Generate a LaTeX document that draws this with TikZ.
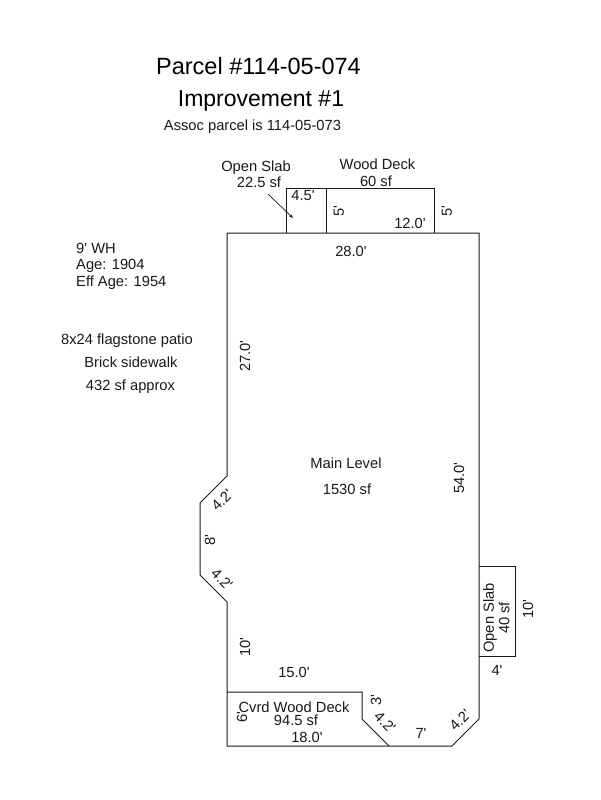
\documentclass[tikz,border=0pt]{standalone}
\usepackage{fontspec}
\setmainfont[Ligatures=TeXOff]{Liberation Sans}
\usetikzlibrary{arrows.meta}
\tikzset{
  plan/.style={draw=black!90,line width=1pt,line join=miter},
  lab/.style={inner sep=0pt,font=\fontsize{14.7}{15}\selectfont,text=black!90,align=center},
  big/.style={inner sep=0pt,font=\fontsize{23.5}{26}\selectfont,text=black},
  mid/.style={inner sep=0pt,font=\fontsize{23}{25}\selectfont,text=black},
}
\begin{document}
\begin{tikzpicture}[x=1pt,y=-1pt]
\useasboundingbox (0,0) rectangle (600,800);
\fill[white] (0,0) rectangle (600,800);
% outlines
\draw[plan] (227,233) -- (479,233) -- (479,719) -- (452,746) -- (227,746) -- (227,602) -- (200,575) -- (200,503) -- (227,476) -- cycle;
\draw[plan] (286,233) -- (286,188) -- (434,188) -- (434,233);
\draw[plan] (326,188) -- (326,233);
\draw[plan] (479,566) -- (515,566) -- (515,656) -- (479,656);
\draw[plan] (227,692) -- (362,692) -- (362,719) -- (389,746);
\coordinate (arrowstart) at (268,194);
\coordinate (arrowend) at (293,218);
\draw[draw=black!90,line width=0.7pt,-{Stealth[length=4pt,width=3pt]}] (arrowstart) -- (arrowend);
% titles
\node[big] (t1) at (258.5,66.5) {Parcel \#114-05-074};
\node[mid] (t2) at (261,100.5) {Improvement \#1};
\node[lab] (t3) at (252.5,127) {Assoc parcel is 114-05-073};
% top labels
\node[lab] (a1) at (256,168) {Open Slab};
\node[lab] (a2) at (259,182) {22.5 sf};
\node[lab] (a3) at (377.5,164) {Wood Deck};
\node[lab] (a4) at (376,181) {60 sf};
\node[lab] (a5) at (303,196) {4.5'};
\node[lab,rotate=90] (a6) at (339,211) {5'};
\node[lab,rotate=90] (a7) at (447,211) {5'};
\node[lab] (a8) at (410,223) {12.0'};
\node[lab] (a9) at (351,251) {28.0'};
% left notes
\node[lab,anchor=west] (n1) at (76,248) {9' WH};
\node[lab,anchor=west] (n2) at (76,266) {Age: 1904};
\node[lab,anchor=west] (n3) at (76,283) {Eff Age: 1954};
\node[lab] (n4) at (127,341) {8x24 flagstone patio};
\node[lab] (n5) at (131,362) {Brick sidewalk};
\node[lab] (n6) at (130.5,387) {432 sf approx};
% side dims
\node[lab,rotate=90] (d1) at (245,356) {27.0'};
\node[lab,rotate=90] (d2) at (459,478) {54.0'};
\node[lab] (m1) at (346,463) {Main Level};
\node[lab] (m2) at (347,489) {1530 sf};
\node[lab,rotate=45] (d3) at (222,500) {4.2'};
\node[lab,rotate=90] (d4) at (210,540) {8'};
\node[lab,rotate=-45] (d5) at (222,579) {4.2'};
\node[lab,rotate=90] (d6) at (245,647) {10'};
\node[lab] (d7) at (294,672) {15.0'};
% right slab
\node[lab,rotate=90] (s1) at (490,618) {Open Slab};
\node[lab,rotate=90] (s2) at (504,618) {40 sf};
\node[lab,rotate=90] (s3) at (528,609) {10'};
\node[lab] (s4) at (497,670) {4'};
% bottom
\node[lab] (b1) at (294,707) {Cvrd Wood Deck};
\node[lab] (b2) at (296,720) {94.5 sf};
\node[lab] (b3) at (307,737) {18.0'};
\node[lab,rotate=90] (b4) at (242,717) {6'};
\node[lab,rotate=90] (b5) at (376,700) {3'};
\node[lab,rotate=-45] (b6) at (385,722) {4.2'};
\node[lab] (b7) at (421,733) {7'};
\node[lab,rotate=45] (b8) at (460,720) {4.2'};
\end{tikzpicture}
\end{document}
